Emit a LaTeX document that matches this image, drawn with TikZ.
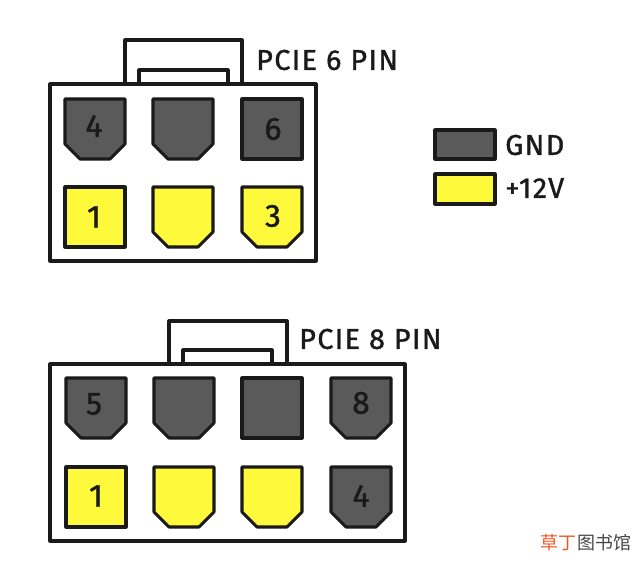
\documentclass[tikz,border=0pt]{standalone}
\usepackage{fontspec}
\setmainfont{Fira Sans}[FakeBold=1.2]
\newfontfamily\cjkfont{Noto Sans CJK SC}
\definecolor{pinline}{RGB}{26,26,26}
\definecolor{gndgray}{RGB}{90,90,90}
\definecolor{vddyellow}{RGB}{255,249,60}
\definecolor{markorange}{RGB}{232,92,40}
\definecolor{markgray}{RGB}{70,70,70}
\tikzset{
	shell/.style={draw=pinline,line width=2.3pt,line join=round},
	gndpin/.style={draw=pinline,fill=gndgray,line width=2.3pt,line join=round},
	vddpin/.style={draw=pinline,fill=vddyellow,line width=2.3pt,line join=round},
	pinnum/.style={font=\fontsize{24}{24}\selectfont,text=pinline,inner sep=0pt},
	title/.style={font=\fontsize{21.5}{22}\selectfont\addfontfeature{LetterSpace=5},text=pinline,anchor=west,inner sep=0pt},
}
% square pin: left, top, style
\newcommand{\squarepin}[3]{\draw [#3] (#1,#2) rectangle ++(60,60) ;}
% keyed pin with the two lower corners cut
\newcommand{\keyedpin}[3]{\draw [#3] (#1,#2) -- ++(60,0) -- ++(0,45) -- ++(-15,15) -- ++(-30,0) -- ++(-15,-15) -- cycle ;}
\begin{document}
\begin{tikzpicture}[x=0.75pt,y=0.75pt,yscale=-1]
	\useasboundingbox (0,0) rectangle (640,578);

	%6 pin latch
	\draw [shell] (125,84) -- (125,40) -- (242,40) -- (242,84) ;
	\draw [shell] (139,84) -- (139,70) -- (228,70) -- (228,84) ;
	%6 pin housing
	\draw [shell,fill=white] (50,84) rectangle (316,261) ;
	\keyedpin{65}{99}{gndpin}
	\keyedpin{153}{99}{gndpin}
	\squarepin{242}{99}{gndpin}
	\squarepin{65}{187}{vddpin}
	\keyedpin{153}{187}{vddpin}
	\keyedpin{242}{187}{vddpin}
	\node [pinnum] (six4) at (94,126) {4};
	\node [pinnum] (six6) at (273,129) {6};
	\node [pinnum] (six1) at (94,217) {1};
	\node [pinnum] (six3) at (273,216) {3};
	\node [title] (sixtitle) at (256,60) {PCIE 6 PIN};

	%legend
	\draw [gndpin] (435,130) rectangle (495,159) ;
	\draw [vddpin] (435,174) rectangle (495,204) ;
	\node [title] (gndtext) at (505,145) {GND};
	\node [title] (vddtext) at (505,188) {+12V};

	%8 pin latch
	\draw [shell] (169,364) -- (169,321) -- (287,321) -- (287,364) ;
	\draw [shell] (183,364) -- (183,350) -- (272,350) -- (272,364) ;
	%8 pin housing
	\draw [shell,fill=white] (50,364) rectangle (405,541) ;
	\keyedpin{66}{378}{gndpin}
	\keyedpin{154}{378}{gndpin}
	\squarepin{242}{378}{gndpin}
	\keyedpin{331}{378}{gndpin}
	\squarepin{66}{467}{vddpin}
	\keyedpin{154}{467}{vddpin}
	\keyedpin{242}{467}{vddpin}
	\keyedpin{331}{467}{gndpin}
	\node [pinnum] (eight5) at (94,404) {5};
	\node [pinnum] (eight8) at (361,403) {8};
	\node [pinnum] (eight1) at (96,496) {1};
	\node [pinnum] (eight4) at (361,496) {4};
	\node [title] (eighttitle) at (299,339) {PCIE 8 PIN};

	%watermark
	\node [anchor=west,inner sep=0pt,font=\cjkfont\fontsize{13.5}{14}\selectfont,text=markorange] (markleft) at (540.5,543) {草丁};
	\node [anchor=west,inner sep=0pt,font=\cjkfont\fontsize{13.5}{14}\selectfont,text=markgray] (markright) at (markleft.east) {图书馆};
\end{tikzpicture}
\end{document}
